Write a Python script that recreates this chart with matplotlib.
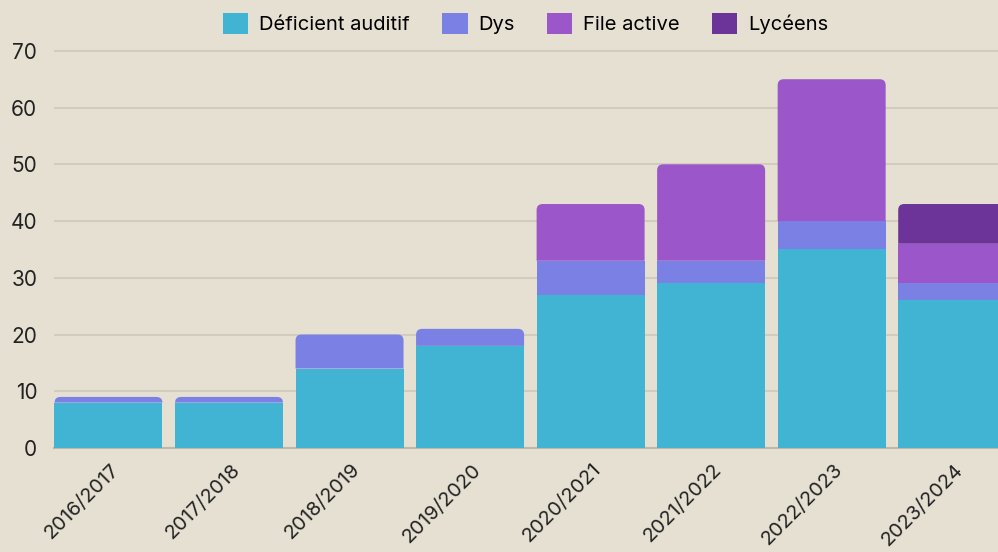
import matplotlib.pyplot as plt
import matplotlib.transforms as mtransforms
from matplotlib.path import Path
from matplotlib.patches import PathPatch, Patch
import numpy as np

# données
annees = ['2016/2017', '2017/2018', '2018/2019', '2019/2020',
          '2020/2021', '2021/2022', '2022/2023', '2023/2024']
deficient_auditif = [8, 8, 14, 18, 27, 29, 35, 26]
dys = [1, 1, 6, 3, 6, 4, 5, 3]
file_active = [0, 0, 0, 0, 10, 17, 25, 7]
lyceens = [0, 0, 0, 0, 0, 0, 0, 7]

series = ['Déficient auditif', 'Dys', 'File active', 'Lycéens']
couleurs = ['#41B3D3', '#7B80E4', '#9B56C9', '#6C3398']
fond = '#E6E0D3'

plt.rcParams['font.family'] = ['Inter', 'DejaVu Sans']

fig = plt.figure(figsize=(9.98, 5.52), dpi=100)
fig.patch.set_facecolor(fond)
ax = fig.add_axes([54 / 998, 1 - 448 / 552, 1 - 54 / 998, (448 - 48) / 552])
ax.set_facecolor(fond)
ax.set_xlim(-0.452, 7.38)
ax.set_ylim(0, 70.5)

x = np.arange(len(annees))
largeur = 0.896

# rayon des coins arrondis en unités de données (≈6 px)
p0 = ax.transData.transform((0, 0))
p1 = ax.transData.transform((1, 1))
rx = 6 / (p1[0] - p0[0])
ry = 6 / (p1[1] - p0[1])


def coins_arrondis(rect):
    x0, y0 = rect.get_x(), rect.get_y()
    w, h = rect.get_width(), rect.get_height()
    verts = [(x0, y0), (x0 + w, y0), (x0 + w, y0 + h - ry),
             (x0 + w, y0 + h), (x0 + w - rx, y0 + h),
             (x0 + rx, y0 + h), (x0, y0 + h), (x0, y0 + h - ry),
             (x0, y0)]
    codes = [Path.MOVETO, Path.LINETO, Path.LINETO,
             Path.CURVE3, Path.CURVE3, Path.LINETO,
             Path.CURVE3, Path.CURVE3, Path.CLOSEPOLY]
    return Path(verts, codes)


bas = np.zeros(len(annees))
sommets = [None] * len(annees)
for nom, valeurs, c in zip(series, [deficient_auditif, dys, file_active, lyceens], couleurs):
    barres = ax.bar(x, valeurs, largeur, bottom=bas, color=c, zorder=3, linewidth=0)
    for i, (b, v) in enumerate(zip(barres, valeurs)):
        if v > 0:
            sommets[i] = b
    bas += np.array(valeurs)

# arrondir le haut de chaque pile
for b in sommets:
    b.set_visible(False)
    ax.add_patch(PathPatch(coins_arrondis(b), facecolor=b.get_facecolor(),
                           linewidth=0, zorder=3))

# grille
ax.set_yticks(range(0, 71, 10))
ax.yaxis.grid(True, color='#D2CCBF', linewidth=1.5, zorder=0)
ax.set_axisbelow(True)
for s in ['top', 'right', 'left']:
    ax.spines[s].set_visible(False)
ax.spines['bottom'].set_color('#BFB8AA')
ax.spines['bottom'].set_linewidth(1.5)
ax.tick_params(length=0)
ax.tick_params(axis='y', labelsize=15, labelcolor='#222222', pad=12)

ax.set_xticks(x)
ax.set_xticklabels(annees, rotation=45, ha='right', va='center',
                   rotation_mode='anchor', fontsize=14.5, color='#222222')
decalage = mtransforms.ScaledTranslation(0.08, -0.14, fig.dpi_scale_trans)
for lab in ax.get_xticklabels():
    lab.set_transform(lab.get_transform() + decalage)

# légende
poignees = [Patch(facecolor=c, label=n) for n, c in zip(series, couleurs)]
fig.legend(handles=poignees, loc='upper center', bbox_to_anchor=(0.527, 1.01),
           ncol=4, frameon=False, fontsize=14.5, handlelength=1.25,
           handleheight=1.25, handletextpad=0.55, columnspacing=1.6)

plt.savefig('out.png', dpi=100, facecolor=fond)
